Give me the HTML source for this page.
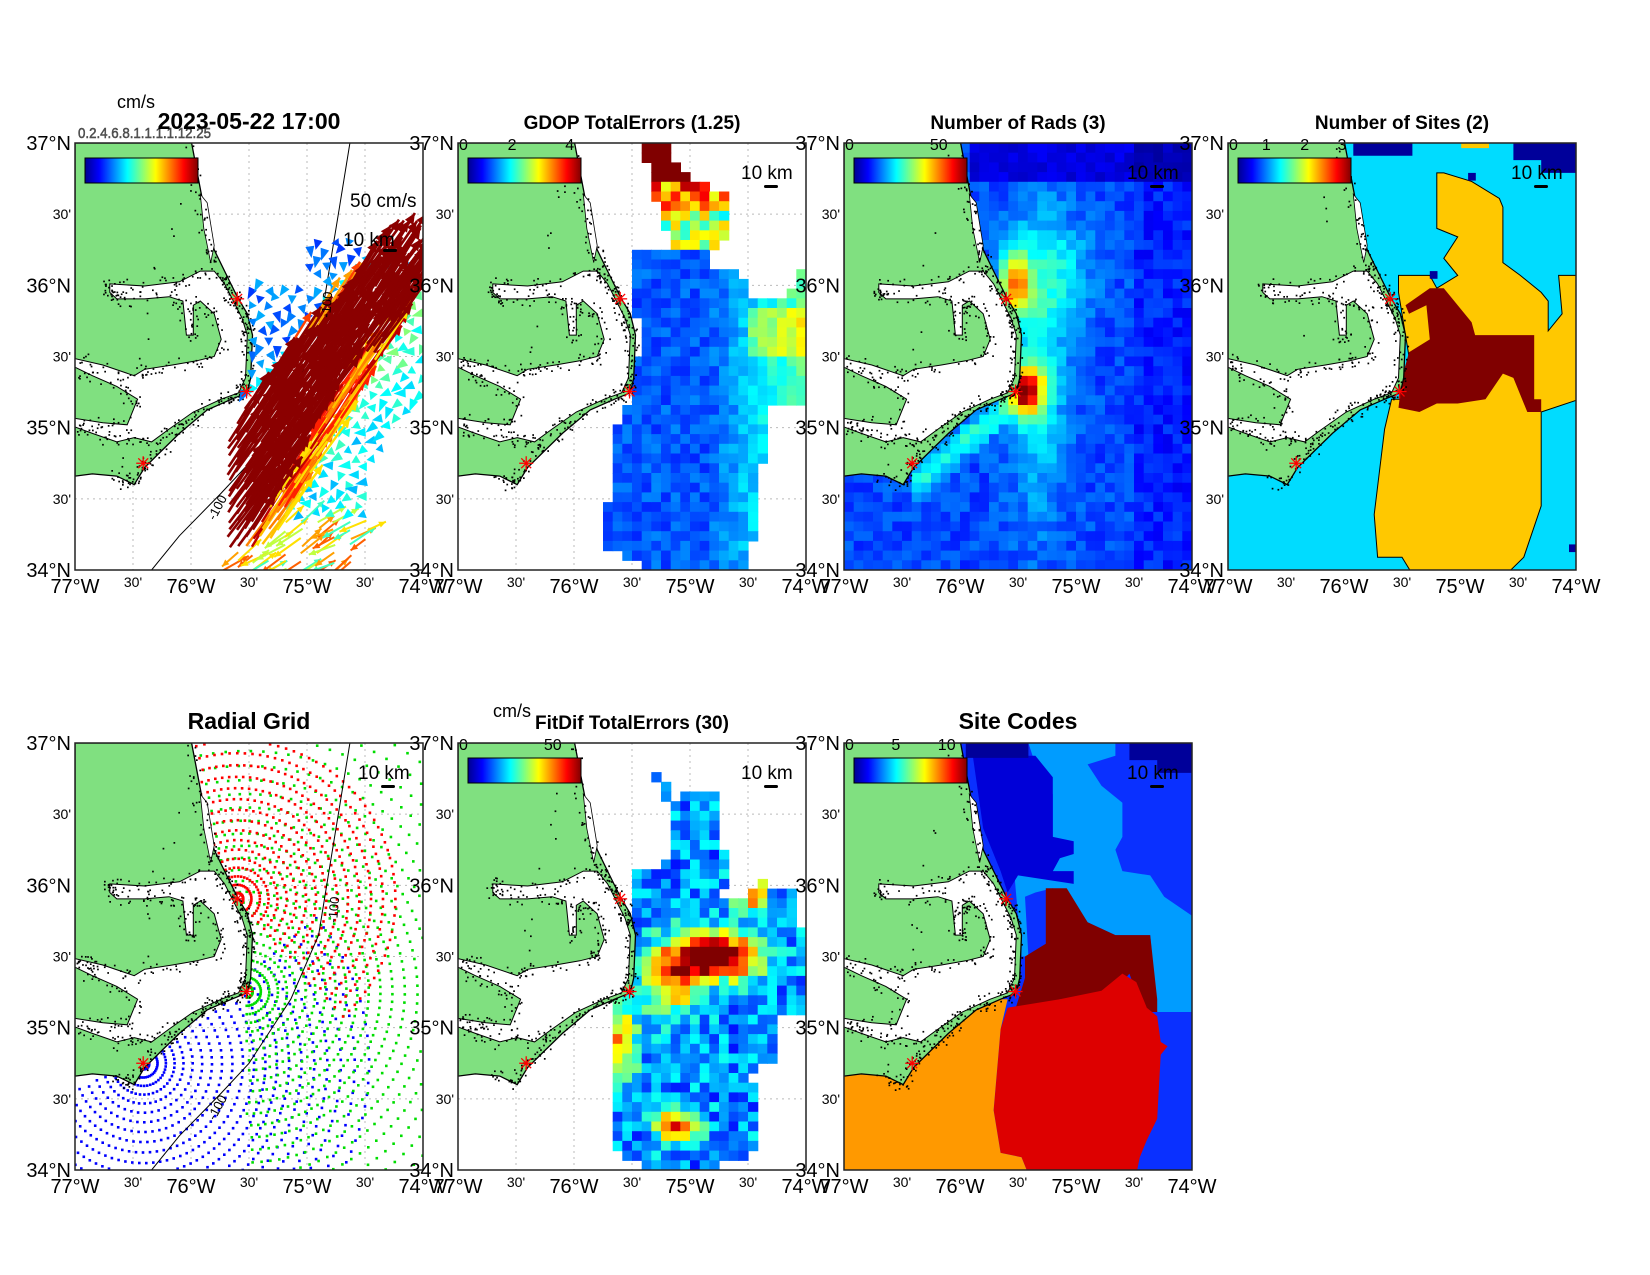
<!DOCTYPE html>
<html><head><meta charset="utf-8"><style>
html,body{margin:0;padding:0;background:#fff;}
svg{display:block;font-family:"Liberation Sans",Arial,sans-serif;}
</style></head><body>
<svg id="s" width="1650" height="1275" xmlns="http://www.w3.org/2000/svg"></svg>
<script>
const S=document.getElementById('s');
let out='';
const W=348,H=427;
const panels=[[75,143],[458,143],[844,143],[1228,143],[75,743],[458,743],[844,743]];
let seed=12345;function rnd(){seed=(seed*1103515245+12345)&0x7fffffff;return seed/0x7fffffff;}
function cl(v){return Math.max(0,Math.min(1,v));}
function jet(v){v=cl(v);const r=cl(1.5-Math.abs(4*v-3)),g=cl(1.5-Math.abs(4*v-2)),b=cl(1.5-Math.abs(4*v-1));return 'rgb('+Math.round(r*255)+','+Math.round(g*255)+','+Math.round(b*255)+')';}
function pip(x,y,p){let c=false;for(let i=0,j=p.length-1;i<p.length;j=i++){const xi=p[i][0],yi=p[i][1],xj=p[j][0],yj=p[j][1];if(((yi>y)!=(yj>y))&&(x<(xj-xi)*(y-yi)/(yj-yi)+xi))c=!c;}return c;}
const land=[[0,0],[0.335,0],[0.37,0.15],[0.40,0.25],[0.43,0.3],[0.466,0.36],[0.495,0.4],[0.51,0.45],[0.505,0.55],[0.495,0.585],[0.45,0.6],[0.38,0.625],[0.3,0.68],[0.25,0.72],[0.2,0.76],[0.17,0.8],[0.12,0.78],[0.05,0.775],[0,0.78]];
const snd=[[0.1,0.33],[0.2,0.335],[0.3,0.325],[0.36,0.3],[0.4,0.3],[0.43,0.33],[0.455,0.37],[0.48,0.41],[0.495,0.45],[0.49,0.55],[0.47,0.585],[0.42,0.6],[0.34,0.63],[0.27,0.67],[0.22,0.7],[0.17,0.69],[0.12,0.7],[0.05,0.68],[0.0,0.665],[0,0.645],[0.08,0.655],[0.15,0.66],[0.18,0.6],[0.12,0.57],[0.05,0.545],[0,0.525],[0,0.505],[0.08,0.52],[0.17,0.545],[0.2,0.53],[0.28,0.52],[0.35,0.51],[0.4,0.5],[0.42,0.46],[0.4,0.4],[0.36,0.37],[0.34,0.38],[0.34,0.45],[0.32,0.45],[0.31,0.37],[0.27,0.36],[0.2,0.365],[0.12,0.365],[0.1,0.35]];
const cur=[[0.36,0.12],[0.38,0.14],[0.4,0.24],[0.39,0.28],[0.37,0.2]];
const iso=[[0.79,0],[0.76,0.15],[0.73,0.3],[0.7,0.45],[0.62,0.6],[0.5,0.75],[0.42,0.82],[0.3,0.92],[0.22,1.0]];
const sites=[[0.466,0.365],[0.493,0.582],[0.196,0.75]];
function poly(P,L,T,fill,extra){return '<polygon points="'+P.map(p=>(L+p[0]*W).toFixed(1)+','+(T+p[1]*H).toFixed(1)).join(' ')+'" fill="'+fill+'" '+(extra||'')+'/>';}
function line(P,L,T,st){return '<polyline points="'+P.map(p=>(L+p[0]*W).toFixed(1)+','+(T+p[1]*H).toFixed(1)).join(' ')+'" fill="none" '+st+'/>';}
function cells(L,T,fn){let s='';const nc=36,nr=44,cw=W/nc,ch=H/nr;for(let i=0;i<nc;i++)for(let j=0;j<nr;j++){const fx=(i+0.5)/nc,fy=(j+0.5)/nr;const c=fn(fx,fy);if(c)s+='<rect x="'+(L+i*cw).toFixed(1)+'" y="'+(T+j*ch).toFixed(1)+'" width="'+(cw+0.6).toFixed(1)+'" height="'+(ch+0.6).toFixed(1)+'" fill="'+c+'"/>';}return s;}
function g(x,y,sx,sy){return Math.exp(-(x*x)/(2*sx*sx)-(y*y)/(2*sy*sy));}
function dots(A,n,L,T,spread){let s='';for(let k=0;k<n;k++){const idx=Math.floor(rnd()*A.length);const a=A[idx],b=A[(idx+1)%A.length];const t=rnd();const x=(a[0]+(b[0]-a[0])*t)*W+(rnd()-0.5)*spread,y=(a[1]+(b[1]-a[1])*t)*H+(rnd()-0.5)*spread;if(x<1||y<1)continue;s+='<rect x="'+(L+x).toFixed(1)+'" y="'+(T+y).toFixed(1)+'" width="1.7" height="1.7" fill="#000"/>';}return s;}
function landLayer(L,T){let s=poly(land,L,T,'#80e080','stroke="#000" stroke-width="1.3"');s+=poly(snd,L,T,'#fff','stroke="#000" stroke-width="1"');s+=poly(cur,L,T,'#fff','stroke="#000" stroke-width="0.8"');
 s+=dots(land.slice(1,17),220,L-4,T,14)+dots(snd,380,L,T,14);return s;}
function grid(L,T){let s='';for(let k=1;k<6;k++){const x=L+k*W/6;s+='<line x1="'+x+'" y1="'+T+'" x2="'+x+'" y2="'+(T+H)+'" stroke="#bbb" stroke-dasharray="2,4"/>';const y=T+k*H/6;s+='<line x1="'+L+'" y1="'+y+'" x2="'+(L+W)+'" y2="'+y+'" stroke="#bbb" stroke-dasharray="2,4"/>';}return s;}
function stars(L,T){let s='';for(const p of sites){const x=L+p[0]*W,y=T+p[1]*H;for(let a=0;a<4;a++){const an=a*Math.PI/4;s+='<line x1="'+(x-7*Math.cos(an))+'" y1="'+(y-7*Math.sin(an))+'" x2="'+(x+7*Math.cos(an))+'" y2="'+(y+7*Math.sin(an))+'" stroke="#f00" stroke-width="1.3"/>';}}return s;}
function cbar(L,T,labels){let s='<defs><linearGradient id="jg'+L+T+'"><stop offset="0" stop-color="#00008f"/><stop offset="0.125" stop-color="#0000ff"/><stop offset="0.375" stop-color="#00ffff"/><stop offset="0.625" stop-color="#ffff00"/><stop offset="0.875" stop-color="#ff0000"/><stop offset="1" stop-color="#800000"/></linearGradient></defs>';
 s+='<rect x="'+(L+10)+'" y="'+(T+15)+'" width="113" height="25" fill="url(#jg'+L+T+')" stroke="#000"/>';
 for(const l of labels)s+='<text x="'+(L+1+l[1]*113)+'" y="'+(T+7)+'" font-size="16" text-anchor="'+(l[1]==0?'start':'middle')+'">'+l[0]+'</text>';return s;}
function km(L,T,big){if(big)return '<text x="'+(L+W-80)+'" y="'+(T+103)+'" font-size="19">10 km</text><rect x="'+(L+W-40)+'" y="'+(T+106)+'" width="14" height="3" rx="1.5"/>';return '<text x="'+(L+W-65)+'" y="'+(T+36)+'" font-size="19">10 km</text><rect x="'+(L+W-42)+'" y="'+(T+42)+'" width="14" height="3" rx="1.5"/>';}
function axes(L,T,title){let s='<rect x="'+L+'" y="'+T+'" width="'+W+'" height="'+H+'" fill="none" stroke="#222" stroke-width="1.5"/>';
 const yl=[['37°N',20],['30\'',14],['36°N',20],['30\'',14],['35°N',20],['30\'',14],['34°N',20]];
 yl.forEach((l,k)=>{const y=T+k*H/6;s+='<text x="'+(L-4)+'" y="'+(y+(l[1]>15?7:5))+'" font-size="'+l[1]+'" text-anchor="end">'+l[0]+'</text>';});
 const xl=[['77°W',20],['30\'',14],['76°W',20],['30\'',14],['75°W',20],['30\'',14],['74°W',20]];
 xl.forEach((l,k)=>{const x=L+k*W/6;s+='<text x="'+x+'" y="'+(T+H+(l[1]>15?23:17))+'" font-size="'+l[1]+'" text-anchor="middle">'+l[0]+'</text>';});
 s+='<text x="'+(L+W/2)+'" y="'+(T-14)+'" font-size="'+(title[1]||19)+'" font-weight="bold" text-anchor="middle">'+title[0]+'</text>';return s;}
function clipStart(i,L,T){return '<clipPath id="c'+i+'"><rect x="'+L+'" y="'+T+'" width="'+W+'" height="'+H+'"/></clipPath><g clip-path="url(#c'+i+')">';}
function arrow(x,y,l,an,col,w,hl){const x2=x+l*Math.cos(an),y2=y+l*Math.sin(an);return '<line x1="'+x.toFixed(1)+'" y1="'+y.toFixed(1)+'" x2="'+x2.toFixed(1)+'" y2="'+y2.toFixed(1)+'" stroke="'+col+'" stroke-width="'+w+'"/><polygon points="'+x2.toFixed(1)+','+y2.toFixed(1)+' '+(x2-hl*Math.cos(an)+hl*0.45*Math.sin(an)).toFixed(1)+','+(y2-hl*Math.sin(an)-hl*0.45*Math.cos(an)).toFixed(1)+' '+(x2-hl*Math.cos(an)-hl*0.45*Math.sin(an)).toFixed(1)+','+(y2-hl*Math.sin(an)+hl*0.45*Math.cos(an)).toFixed(1)+'" fill="'+col+'"/>';}

// ---- Panel 1
(function(){const [L,T]=panels[0];out+=clipStart(0,L,T)+grid(L,T);
 const mask=[[0.49,0.32],[0.68,0.32],[0.66,0.22],[0.8,0.22],[0.87,0.26],[1.05,0.3],[1.05,0.55],[0.85,0.75],[0.85,0.9],[0.8,1.05],[0.42,1.05],[0.43,0.72],[0.47,0.62],[0.5,0.55]];
 const A=[0.57,0.7],B=[0.93,0.35];
 let blue='',red='',orng='';
 for(let i=0;i<44;i++)for(let j=0;j<54;j++){const fx=i/43+(rnd()-0.5)*0.008,fy=j/53+(rnd()-0.5)*0.008;if(!pip(fx,fy,mask))continue;
  const xl=A[0]+(fy-A[1])*(B[0]-A[0])/(B[1]-A[1]);const d=fx-xl; const x=L+fx*W,y=T+fy*H;
  const dmax=0.03+Math.max(0,0.16*(fy-0.3)/0.5);
  if(d>-0.17&&d<dmax&&fy<0.95&&fy>0.3){let col='#8b0000';
   if(d>dmax-0.07&&fy>0.5)col=['#ff2000','#ff8000','#ffc000','#c00000','#ffe000'][Math.floor(rnd()*5)];
   else if(d<-0.15)col=['#ff4000','#ffa000','#8b0000'][Math.floor(rnd()*3)];
   const lenA=fy>0.6?55+rnd()*25:45+rnd()*35;
   if(col=='#8b0000')red+=arrow(x,y,lenA,-0.97+(rnd()-0.5)*0.12,col,2.6,11);else orng+=arrow(x,y,lenA,-0.97+(rnd()-0.5)*0.12,col,2.4,10);
  } else if(fy>0.88){if(i%2)continue;const col=['#ffe000','#ffa000','#c0ff40','#ff6000','#40ffc0'][Math.floor(rnd()*5)];blue+=arrow(x,y,18+rnd()*15,(rnd()<0.5?-0.6:2.6)+(rnd()-0.5)*0.4,col,2,7);}
  else {if((i+j)%2)continue;const v=(d<0?0.17:0.3)+rnd()*0.13+(Math.abs(d)<0.2?0.08:0);const col=jet(v);const an=(d<0?1.6:2.6)+(rnd()-0.5)*1.4;const l=7+rnd()*6;
   blue+='<polygon points="'+(x+l*Math.cos(an)).toFixed(1)+','+(y+l*Math.sin(an)).toFixed(1)+' '+(x+4.5*Math.sin(an)).toFixed(1)+','+(y-4.5*Math.cos(an)).toFixed(1)+' '+(x-4.5*Math.sin(an)).toFixed(1)+','+(y+4.5*Math.cos(an)).toFixed(1)+'" fill="'+col+'"/>';}
 }
 out+=landLayer(L,T)+line(iso,L,T,'stroke="#000" stroke-width="1"')+blue+orng+red+stars(L,T)+'</g>';
 out+=cbar(L,T,[]);out+='<text x="'+(L+3)+'" y="'+(T-5)+'" font-size="15" fill="#555" stroke="#444" stroke-width="0.5" textLength="133" lengthAdjust="spacingAndGlyphs">0.2.4.6.8.1.1.1.1.12.25</text>';
 out+='<text x="'+(L+W-73)+'" y="'+(T+64)+'" font-size="19">50 cm/s</text>'+km(L,T,true);
 out+='<text x="0" y="0" font-size="13" transform="translate('+(L+140)+' '+(T+378)+') rotate(-62)">-100</text>';
 out+='<text x="0" y="0" font-size="13" transform="translate('+(L+255)+' '+(T+175)+') rotate(-85)">-100</text>';
 out+='<text x="'+(L+42)+'" y="'+(T-35)+'" font-size="18">cm/s</text>';
 out+=axes(L,T,['2023-05-22 17:00',23]);})();

// ---- Panel 2
(function(){const [L,T]=panels[1];out+=clipStart(1,L,T)+grid(L,T);
 const plume=[[0.53,0.0],[0.6,0.0],[0.63,0.06],[0.72,0.1],[0.78,0.13],[0.78,0.2],[0.74,0.24],[0.62,0.24],[0.58,0.16],[0.55,0.08]];
 const body=[[0.5,0.25],[0.73,0.25],[0.73,0.3],[0.83,0.31],[0.83,0.36],[0.95,0.36],[0.97,0.3],[1.0,0.3],[1.0,0.62],[0.9,0.62],[0.9,0.7],[0.85,0.78],[0.87,0.85],[0.83,1.0],[0.55,1.0],[0.43,0.95],[0.43,0.85],[0.45,0.68],[0.5,0.6],[0.52,0.45],[0.5,0.31]];
 out+=cells(L,T,(fx,fy)=>{if(pip(fx,fy,plume)){const v=fy<0.08?1:fy<0.15?0.6+rnd()*0.35:0.35+rnd()*0.35;return jet(v);}
  if(pip(fx,fy,body)){let v=0.16+rnd()*0.1+Math.max(0,fx-0.72)*1.0;if(fx>0.82&&fy>0.38&&fy<0.5)v+=0.15;return jet(v);}return null;});
 out+=landLayer(L,T)+stars(L,T)+'</g>'+cbar(L,T,[['0',0],['2',0.47],['4',0.98]])+km(L,T)+axes(L,T,['GDOP TotalErrors (1.25)']);})();

// ---- Panel 3
(function(){const [L,T]=panels[2];out+=clipStart(2,L,T)+grid(L,T);
 out+=cells(L,T,(fx,fy)=>{let v=0.15+rnd()*0.09;
  v+=0.5*g(fx-0.49,fy-0.33,0.03,0.05)+0.65*g(fx-0.53,fy-0.58,0.03,0.04);
  v+=0.18*g(fx-0.56,fy-0.5,0.06,0.25);
  const t=(fx-0.2)/0.32;if(t>0&&t<1){const yl=0.8-t*0.22;v+=0.2*Math.exp(-((fy-yl)**2)/(2*0.03*0.03));}
  v+=0.12*g(fx-0.62,fy-0.3,0.08,0.08);
  if(fy<0.1&&fx>0.35)v=0.07+rnd()*0.05;
  if(fx>0.82)v-=0.04;return jet(v);});
 out+=landLayer(L,T)+stars(L,T)+'</g>'+cbar(L,T,[['0',0],['50',0.83]])+km(L,T)+axes(L,T,['Number of Rads (3)']);})();

// ---- Panel 4
(function(){const [L,T]=panels[3];out+=clipStart(3,L,T);
 const yel=[[0.6,0.07],[0.62,0.07],[0.7,0.09],[0.78,0.13],[0.79,0.15],[0.79,0.28],[0.84,0.31],[0.9,0.35],[0.92,0.37],[0.92,0.44],[0.96,0.4],[0.95,0.31],[1.01,0.31],[1.01,0.6],[0.9,0.63],[0.9,0.7],[0.9,0.85],[0.85,0.97],[0.8,1.01],[0.53,1.01],[0.5,0.97],[0.43,0.97],[0.42,0.87],[0.45,0.67],[0.47,0.6],[0.52,0.6],[0.52,0.5],[0.49,0.35],[0.49,0.31],[0.58,0.31],[0.6,0.34],[0.66,0.31],[0.62,0.27],[0.66,0.22],[0.6,0.2],[0.6,0.12]];
 const red=[[0.58,0.34],[0.62,0.34],[0.66,0.38],[0.7,0.42],[0.71,0.45],[0.78,0.45],[0.88,0.45],[0.88,0.6],[0.9,0.6],[0.9,0.63],[0.86,0.63],[0.82,0.55],[0.79,0.54],[0.74,0.6],[0.66,0.61],[0.6,0.61],[0.55,0.63],[0.49,0.62],[0.5,0.55],[0.52,0.49],[0.58,0.46],[0.57,0.38],[0.52,0.4],[0.51,0.38]];
 out+='<rect x="'+L+'" y="'+T+'" width="'+W+'" height="'+H+'" fill="#00dcff"/>';
 out+=poly(yel,L,T,'#ffc800','stroke="#000" stroke-width="1"')+poly([[0.67,0],[0.75,0],[0.75,0.012],[0.67,0.012]],L,T,'#ffc800')+poly(red,L,T,'#800000');
 out+=poly([[0.36,0],[0.53,0],[0.53,0.03],[0.36,0.03]],L,T,'#00009a')+poly([[0.82,0],[1,0],[1,0.07],[0.9,0.07],[0.9,0.04],[0.82,0.04]],L,T,'#00009a');
 for(const q of [[0.69,0.07],[0.58,0.3],[0.98,0.94]])out+=poly([[q[0],q[1]],[q[0]+0.022,q[1]],[q[0]+0.022,q[1]+0.018],[q[0],q[1]+0.018]],L,T,'#00009a');
 out+=landLayer(L,T)+stars(L,T)+'</g>'+cbar(L,T,[['0',0],['1',0.33],['2',0.67],['3',1.0]])+km(L,T)+axes(L,T,['Number of Sites (2)']);})();

// ---- Panel 5
(function(){const [L,T]=panels[4];out+=clipStart(4,L,T)+grid(L,T);
 const defs=[[2,'#0000ff',50,250,230],[1,'#00dd00',-20,180,300],[0,'#ff0000',-30,140,165]];
 let s='';for(const d of defs){const p=sites[d[0]];const cx=L+p[0]*W,cy=T+p[1]*H;
  for(let r=6;r<d[4];r+=8+r*0.03){const step=Math.max(3,Math.min(8,400/r));for(let b=d[2];b<=d[3];b+=step){const a=b*Math.PI/180;const x=cx+r*Math.sin(a),y=cy-r*Math.cos(a);if(x<L||x>L+W||y<T||y>T+H)continue;s+='<rect x="'+(x-1.2).toFixed(1)+'" y="'+(y-1.2).toFixed(1)+'" width="2.6" height="2.6" fill="'+d[1]+'"/>';}}}
 out+=s+landLayer(L,T)+line(iso,L,T,'stroke="#000" stroke-width="1"')+stars(L,T)+'</g>'+km(L,T);
 out+='<text x="0" y="0" font-size="13" transform="translate('+(L+262)+' '+(T+180)+') rotate(-85)">-100</text>';
 out+='<text x="0" y="0" font-size="13" transform="translate('+(L+140)+' '+(T+378)+') rotate(-62)">-100</text>';
 out+=axes(L,T,['Radial Grid',23]);})();

// ---- Panel 6
(function(){const [L,T]=panels[5];out+=clipStart(5,L,T)+grid(L,T);
 const m=[[0.55,0.05],[0.6,0.1],[0.62,0.13],[0.75,0.1],[0.75,0.2],[0.78,0.3],[0.75,0.37],[0.8,0.37],[0.87,0.32],[0.97,0.35],[0.97,0.43],[1.0,0.43],[1.0,0.63],[0.9,0.63],[0.92,0.75],[0.84,0.77],[0.87,0.9],[0.85,0.96],[0.75,0.99],[0.52,0.99],[0.44,0.95],[0.45,0.8],[0.45,0.71],[0.44,0.6],[0.5,0.55],[0.5,0.5],[0.49,0.31],[0.53,0.3],[0.6,0.28],[0.62,0.2],[0.6,0.15]];
 out+=cells(L,T,(fx,fy)=>{if(!pip(fx,fy,m))return null;let v=0.14+rnd()*0.25;
  v+=0.9*g(fx-0.75,fy-0.5,0.08,0.035)+0.5*g(fx-0.62,fy-0.55,0.06,0.06)+0.5*g(fx-0.47,fy-0.7,0.03,0.06)+0.7*g(fx-0.63,fy-0.9,0.04,0.025)+0.6*g(fx-0.84,fy-0.35,0.03,0.03);
  return jet(v);});
 out+=landLayer(L,T)+stars(L,T)+'</g>'+cbar(L,T,[['0',0],['50',0.83]])+km(L,T);
 out+='<text x="'+(L+35)+'" y="'+(T-26)+'" font-size="18">cm/s</text>'+axes(L,T,['FitDif TotalErrors (30)']);})();

// ---- Panel 7
(function(){const [L,T]=panels[6];out+=clipStart(6,L,T);
 out+='<rect x="'+L+'" y="'+T+'" width="'+W+'" height="'+H+'" fill="#0a30ff"/>';
 out+=poly([[0.53,0.0],[0.78,0],[0.78,0.03],[0.7,0.05],[0.74,0.1],[0.8,0.14],[0.8,0.22],[0.78,0.25],[0.8,0.3],[0.88,0.31],[0.92,0.36],[1.01,0.41],[1.01,0.63],[0.9,0.63],[0.88,0.45],[0.78,0.45],[0.7,0.42],[0.65,0.36],[0.6,0.34],[0.55,0.35],[0.52,0.36],[0.53,0.5],[0.51,0.5],[0.49,0.31],[0.6,0.3],[0.62,0.27],[0.66,0.25],[0.6,0.22],[0.6,0.12],[0.55,0.05]],L,T,'#009cff');
 out+=poly([[0.37,0.03],[0.55,0.03],[0.6,0.08],[0.6,0.22],[0.66,0.23],[0.66,0.26],[0.62,0.27],[0.6,0.3],[0.66,0.3],[0.66,0.33],[0.5,0.31],[0.47,0.35],[0.45,0.3],[0.4,0.2]],L,T,'#0000d8');
 out+=poly([[0.35,0],[0.53,0],[0.53,0.035],[0.35,0.035]],L,T,'#00009a')+poly([[0.82,0],[1,0],[1,0.07],[0.9,0.07],[0.9,0.04],[0.82,0.04]],L,T,'#00009a');
 out+=poly([[0.58,0.34],[0.64,0.34],[0.7,0.42],[0.78,0.45],[0.88,0.45],[0.9,0.6],[0.9,0.63],[0.86,0.63],[0.82,0.54],[0.8,0.56],[0.74,0.59],[0.68,0.6],[0.62,0.6],[0.55,0.63],[0.49,0.63],[0.52,0.55],[0.52,0.5],[0.58,0.47],[0.58,0.4]],L,T,'#800000');
 out+=poly([[0.47,0.62],[0.62,0.6],[0.74,0.58],[0.8,0.54],[0.84,0.56],[0.87,0.62],[0.9,0.64],[0.91,0.7],[0.93,0.71],[0.91,0.73],[0.9,0.88],[0.87,0.93],[0.85,0.97],[0.84,1.01],[0.53,1.01],[0.51,0.97],[0.45,0.96],[0.43,0.86],[0.45,0.67]],L,T,'#dd0000');
 out+=poly([[0,0.775],[0.17,0.78],[0.2,0.74],[0.27,0.7],[0.33,0.64],[0.4,0.6],[0.47,0.6],[0.45,0.67],[0.43,0.86],[0.45,0.96],[0.51,0.97],[0.53,1.01],[0,1.01]],L,T,'#ff9900');
 out+=landLayer(L,T)+stars(L,T)+'</g>'+cbar(L,T,[['0',0],['5',0.45],['10',0.9]])+km(L,T)+axes(L,T,['Site Codes',23]);})();

S.innerHTML=out;
</script>
</body></html>
